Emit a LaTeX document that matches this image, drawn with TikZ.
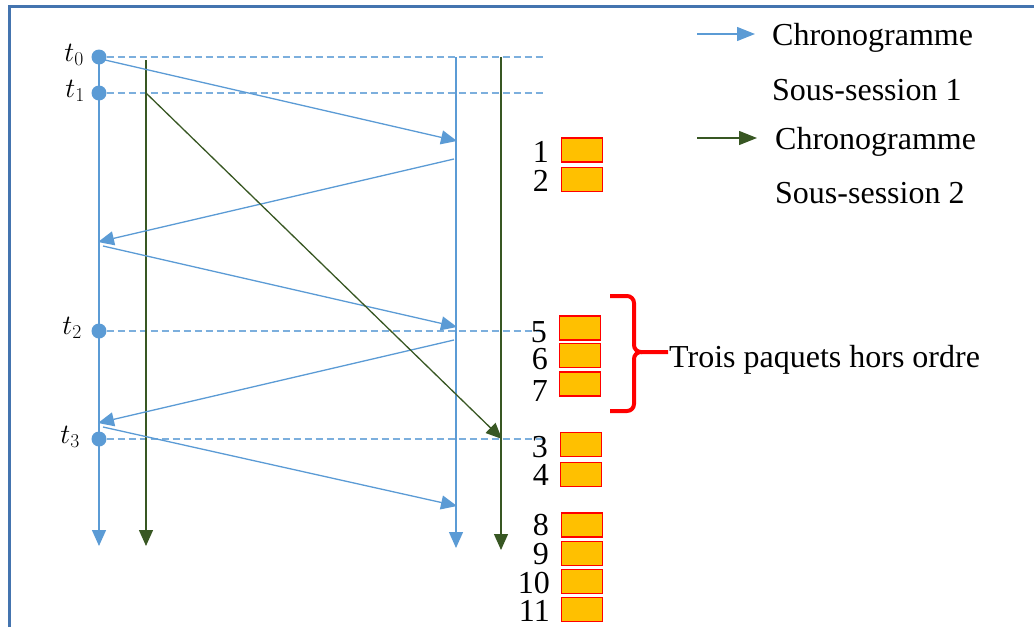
\RequirePackage{fix-cm}
\documentclass[tikz,border=0pt]{standalone}
\usepackage{fontspec}
\setmainfont{Liberation Serif}
\usetikzlibrary{arrows.meta}
\definecolor{sblue}{RGB}{91,155,213}
\definecolor{sgreen}{RGB}{56,87,35}
\definecolor{frameblue}{RGB}{68,116,175}
\definecolor{pktfill}{RGB}{255,192,0}
\begin{document}
\begin{tikzpicture}[x=1pt,y=-1pt,
  barrow/.style={draw=sblue, line width=1.3pt, -{Triangle[length=16pt,width=14pt]}},
  garrow/.style={draw=sgreen, line width=1.3pt, -{Triangle[length=16pt,width=14pt]}},
  tline/.style={draw=sblue!80, line width=1.8pt, dash pattern=on 7pt off 4pt},
  tdot/.style={circle, fill=sblue, inner sep=0pt, minimum size=15pt},
  pkt/.style={draw=red, fill=pktfill, line width=1.8pt, minimum width=41pt, minimum height=24pt, inner sep=0pt},
  num/.style={font=\fontsize{32}{32}\selectfont, anchor=base east, inner sep=0pt},
  legtext/.style={font=\fontsize{32}{32}\selectfont, anchor=base west, inner sep=0pt},
  tlab/.style={font=\fontsize{28}{28}\selectfont, anchor=base east, inner sep=0pt},
  bracestyle/.style={draw=red, line width=4pt, rounded corners=7pt}]
\useasboundingbox (0,0) rectangle (1034,627);
% frame
\draw[frameblue, line width=3pt] (9.5,627) -- (9.5,6.5) -- (1034,6.5);

% time dots
\node[tdot] (d0) at (99,57) {};
\node[tdot] (d1) at (99,93) {};
\node[tdot] (d2) at (99,331) {};
\node[tdot] (d3) at (99,439) {};
\node[tlab] (l0) at (84,61) {$t_0$};
\node[tlab] (l1) at (85,97) {$t_1$};
\node[tlab] (l2) at (82,334) {$t_2$};
\node[tlab] (l3) at (80,443) {$t_3$};

% dashed time lines
\coordinate (e0) at (543,57);
\coordinate (e1) at (543,93);
\coordinate (e2) at (543,331);
\coordinate (e3) at (543,439);
\draw[tline] (d0) -- (e0);
\draw[tline] (d1) -- (e1);
\draw[tline] (d2) -- (e2);
\draw[tline] (d3) -- (e3);

% timelines
\coordinate (b1end) at (99,546);
\coordinate (g1top) at (146,60);
\coordinate (g1end) at (146,546);
\coordinate (b2top) at (456,57);
\coordinate (b2end) at (456,548);
\coordinate (g2top) at (501,57);
\coordinate (g2end) at (501,550);
\draw[barrow] (d0.center) -- (b1end);
\draw[garrow] (g1top) -- (g1end);
\draw[barrow] (b2top) -- (b2end);
\draw[garrow] (g2top) -- (g2end);

% sub-session 1 messages
\coordinate (m1s) at (105,60);   \coordinate (m1e) at (457,141);
\coordinate (m2s) at (454,159);  \coordinate (m2e) at (98,242);
\coordinate (m3s) at (103,246);  \coordinate (m3e) at (457,327);
\coordinate (m4s) at (454,340);  \coordinate (m4e) at (98,423);
\coordinate (m5s) at (103,427);  \coordinate (m5e) at (457,506);
\draw[barrow] (m1s) -- (m1e);
\draw[barrow] (m2s) -- (m2e);
\draw[barrow] (m3s) -- (m3e);
\draw[barrow] (m4s) -- (m4e);
\draw[barrow] (m5s) -- (m5e);

% sub-session 2 message
\coordinate (n1s) at (146,93);  \coordinate (n1e) at (502,439);
\draw[garrow] (n1s) -- (n1e);

% packets
\node[pkt] (p1) at (582,150) {};
\node[pkt] (p2) at (582,179.5) {};
\node[pkt] (p5) at (580,328) {};
\node[pkt] (p6) at (580,355.5) {};
\node[pkt] (p7) at (580,384) {};
\node[pkt] (p3) at (581,444.5) {};
\node[pkt] (p4) at (581,474.5) {};
\node[pkt] (p8) at (582,525) {};
\node[pkt] (p9) at (582,553.5) {};
\node[pkt] (p10) at (582,581.5) {};
\node[pkt] (p11) at (582,609.5) {};
\node[num] (n1) at (549,162) {1};
\node[num] (n2) at (549,191) {2};
\node[num] (n5) at (547,342) {5};
\node[num] (n6) at (548,369) {6};
\node[num] (n7) at (548,401) {7};
\node[num] (n3) at (548,457) {3};
\node[num] (n4) at (549,485) {4};
\node[num] (n8) at (549,535) {8};
\node[num] (n9) at (549,564) {9};
\node[num] (n10) at (550,593) {10};
\node[num] (n11) at (550,621) {11};

% brace
\coordinate (bt) at (610,296);
\coordinate (bb) at (610,411);
\coordinate (bm) at (668,352);
\draw[bracestyle] (bt) -- (634,296) -- (634,352) -- (bm);
\draw[bracestyle] (bb) -- (634,411) -- (634,352) -- (642,352);
\node[legtext] (tpo) at (669,367) {Trois paquets hors ordre};

% legend
\coordinate (lb1) at (697,34);  \coordinate (lb2) at (755,34);
\coordinate (lg1) at (697,138); \coordinate (lg2) at (757,138);
\draw[draw=sblue, line width=1.2pt, -{Triangle[length=18pt,width=14pt]}] (lb1) -- (lb2);
\draw[draw=sgreen, line width=1.2pt, -{Triangle[length=18pt,width=14pt]}] (lg1) -- (lg2);
\node[legtext] (c1) at (772,45) {Chronogramme};
\node[legtext] (s1) at (772,100) {Sous-session 1};
\node[legtext] (c2) at (775,149) {Chronogramme};
\node[legtext] (s2) at (775,203) {Sous-session 2};
\end{tikzpicture}
\end{document}
